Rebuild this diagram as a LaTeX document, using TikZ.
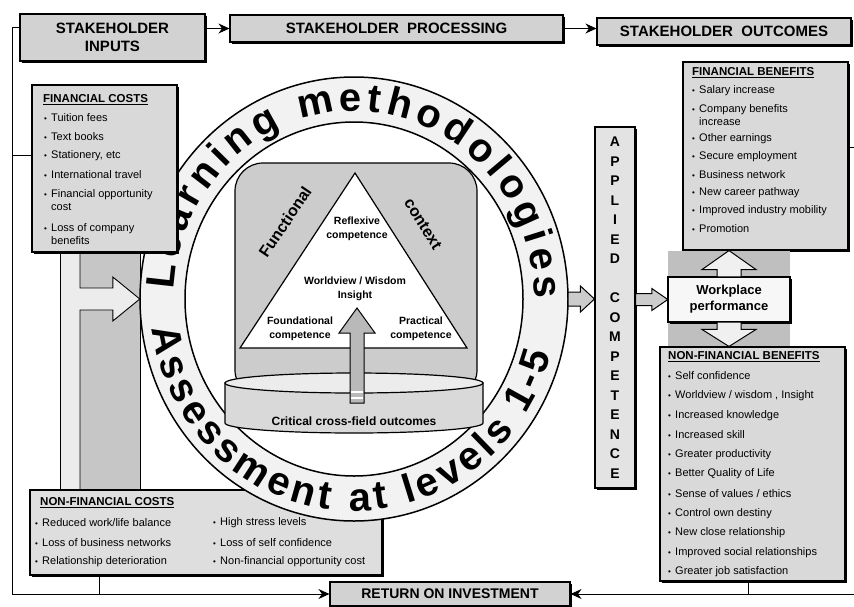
\documentclass[tikz,border=0pt]{standalone}
\usepackage{fontspec}
\setmainfont{Liberation Sans}
\usetikzlibrary{decorations.text,arrows.meta,calc,shapes.geometric,shadows}
\newcommand\fsz[2]{\fontsize{#1}{#2}\selectfont}
\newcommand\bi[1]{\makebox[7pt][l]{\fsz{8}{9}\textbullet}#1}
\newcommand\itm[4]{\node[item] (#1) at (#2,#3) {\bi{#4}};}
\newcommand\rarrow[6][]{\draw[barrow,#1] let \p1=(#2), \p2=(#3) in (\x1,\y2+#5pt) -- (\x2-#4pt,\y2+#5pt) -- (\x2-#4pt,\y2+#6pt) -- (\x2,\y2) -- (\x2-#4pt,\y2-#6pt) -- (\x2-#4pt,\y2-#5pt) -- (\x1,\y2-#5pt) -- cycle;}
\newcommand\uarrow[6][]{\draw[barrow,#1] let \p1=(#2), \p2=(#3) in (\x2+#5pt,\y1) -- (\x2+#5pt,\y2-#4pt) -- (\x2+#6pt,\y2-#4pt) -- (\x2,\y2) -- (\x2-#6pt,\y2-#4pt) -- (\x2-#5pt,\y2-#4pt) -- (\x2-#5pt,\y1) -- cycle;}
\newcommand\darrow[6][]{\draw[barrow,#1] let \p1=(#2), \p2=(#3) in (\x2+#5pt,\y1) -- (\x2+#5pt,\y2+#4pt) -- (\x2+#6pt,\y2+#4pt) -- (\x2,\y2) -- (\x2-#6pt,\y2+#4pt) -- (\x2-#5pt,\y2+#4pt) -- (\x2-#5pt,\y1) -- cycle;}
\begin{document}
\begin{tikzpicture}[x=1pt,y=-1pt,
  box/.style={draw, line width=1.1pt, fill=gray!30, inner sep=0pt,
    drop shadow={shadow xshift=1.6pt, shadow yshift=-1.6pt, opacity=1, fill=black}},
  topbox/.style={box, fill=gray!35, font=\fsz{15}{18}\bfseries, align=center},
  item/.style={anchor=west, inner sep=0pt, font=\fsz{11}{13}, align=left},
  hdr/.style={anchor=west, inner sep=0pt, font=\fsz{11.5}{13}\bfseries},
  small/.style={inner sep=0pt, font=\fsz{10.5}{13.5}\bfseries, align=center},
  conn/.style={line width=0.9pt},
  arr/.style={conn, -{Stealth[length=11pt,width=10pt]}},
  barrow/.style={draw, line width=1pt, fill=gray!45, line join=miter},
]
\useasboundingbox (0,0) rectangle (854,606);
\fill[white] (0,0) rectangle (854,606);
\path node[ellipse, minimum width=428pt, minimum height=444pt, inner sep=0pt] (ring) at (354,299) {};

% ---------- left panel with arrow ----------
\fill[gray!15] (60,95) rectangle (140,490);
\fill[gray!45] (80,95) rectangle (140,490);
\draw[conn] (60,95) -- (60,490);
\draw[conn] (140,95) -- (140,490);
\coordinate (pstart) at (80,303);
\fill[gray!15] let \p1=(pstart), \p2=(ring.west) in (\x1-1pt,\y2+11pt) -- (\x2-27pt,\y2+11pt) -- (\x2-27pt,\y2+22pt) -- (\x2,\y2) -- (\x2-27pt,\y2-22pt) -- (\x2-27pt,\y2-11pt) -- (\x1-1pt,\y2-11pt) -- cycle;
\draw[conn] let \p1=(pstart), \p2=(ring.west) in (80,95) -- (\x1,\y2+11pt) -- (\x2-27pt,\y2+11pt) -- (\x2-27pt,\y2+22pt) -- (\x2,\y2) -- (\x2-27pt,\y2-22pt) -- (\x2-27pt,\y2-11pt) -- (\x1,\y2-11pt) -- (80,490);

% ---------- non-financial costs ----------
\node[box, fill=gray!26, minimum width=352pt, minimum height=85pt] (nfc) at (206,532.5) {};
\node[hdr] (nfch) at (40,503) {\underline{NON-FINANCIAL COSTS}};
\itm{nc1}{35}{523}{Reduced work/life balance}
\itm{nc2}{35}{543}{Loss of business networks}
\itm{nc3}{35}{562}{Relationship deterioration}
\itm{nc4}{213}{523}{High stress levels}
\itm{nc5}{213}{543}{Loss of self confidence}
\itm{nc6}{213}{562}{Non-financial opportunity cost}

% ---------- ring ----------
\fill[gray!10, even odd rule] (ring.center) ellipse [x radius=214, y radius=222] (ring.center) ellipse [x radius=169, y radius=177];
\draw[line width=1.5pt] (ring.center) ellipse [x radius=214, y radius=222];
\draw[line width=1.5pt] (ring.center) ellipse [x radius=169, y radius=177];
\path[decorate, decoration={text along path, text align=fit to path, text={|\fsz{40}{40}\bfseries|Learning methodologies}}] (ring.center) ++(-177:180 and 188) arc[start angle=-177, end angle=0, x radius=180, y radius=188];
\path[decorate, decoration={text along path, text align=fit to path, text={|\fsz{40}{40}\bfseries|Assessment at levels 1-5}}] (ring.center) ++(172:204 and 212) arc[start angle=172, end angle=15, x radius=204, y radius=212];

% ---------- inner square, triangle ----------
\node[draw, line width=1.2pt, fill=gray!40, rounded corners=28pt, minimum width=242pt, minimum height=235pt, inner sep=0pt] (sq) at (356,280.5) {};
\coordinate (tA) at (355,173);
\coordinate (tB) at (240,348);
\coordinate (tC) at (467,348);
\draw[line width=1.2pt, fill=white] (tA) -- (tB) -- (tC) -- cycle;
\node[small] (refl) at (357,229) {Reflexive\\competence};
\node[small] (world) at (355,289) {Worldview / Wisdom\\Insight};
\node[small] (found) at (300,329) {Foundational\\competence};
\node[small] (pract) at (421,329) {Practical\\competence};
\node[inner sep=0pt, font=\fsz{16}{16}\bfseries, rotate=56] (func) at (285,222) {Functional};
\node[inner sep=0pt, font=\fsz{16}{16}\bfseries, rotate=-58] (ctx) at (423,224) {context};

% ---------- disc ----------
\coordinate (disc) at (354,383);
\draw[line width=1.2pt, fill=gray!30] ($(disc)+(-129,0)$) -- ++(0,40) arc[start angle=180, end angle=0, x radius=129, y radius=10] -- ++(0,-40) -- cycle;
\draw[line width=1.2pt, fill=gray!15] (disc) ellipse [x radius=129, y radius=10];
\node[inner sep=0pt, font=\fsz{12}{12}\bfseries] (crit) at (354,421) {Critical cross-field outcomes};
\coordinate (uaS) at (357,403);
\coordinate (uaT) at (357,308);
\uarrow[fill=gray!55]{uaS}{uaT}{25}{7}{18}
\draw[white, line width=1.5pt] (351,392) -- (363,392) (351,398) -- (363,398);

% ---------- financial costs ----------
\node[box, minimum width=145pt, minimum height=167pt] (fc) at (104.5,168.5) {};
\node[hdr] (fch) at (43,100) {\underline{FINANCIAL COSTS}};
\itm{fc1}{44}{118}{Tuition fees}
\itm{fc2}{44}{137}{Text books}
\itm{fc3}{44}{156}{Stationery, etc}
\itm{fc4}{44}{175}{International travel}
\itm{fc5}{44}{200}{Financial opportunity\\\hspace*{7pt}cost}
\itm{fc6}{44}{234}{Loss of company\\\hspace*{7pt}benefits}

% ---------- top row ----------
\node[topbox, minimum width=185pt, minimum height=47pt] (inp) at (112.5,37.5) {STAKEHOLDER\\INPUTS};
\node[topbox, minimum width=333pt, minimum height=27pt] (proc) at (396.5,28.5) {STAKEHOLDER\ \ PROCESSING};
\node[topbox, minimum width=254pt, minimum height=27pt] (outc) at (724,31.5) {STAKEHOLDER\ \ OUTCOMES};
\draw[arr] (proc.west -| inp.east) -- (proc.west);
\draw[arr] (proc.east) -- (proc.east -| outc.west);

% ---------- applied competence ----------
\node[box, fill=gray!22, minimum width=40pt, minimum height=361pt] (app) at (615,307.5) {};
\foreach \L [count=\i] in {A,P,P,L,I,E,D,{},C,O,M,P,E,T,E,N,C,E}
  {\node[inner sep=0pt, font=\fsz{14}{14}\bfseries] (ac\i) at (615,{142+(\i-1)*19.5}) {\L};}
\rarrow[fill=gray!40]{ring.east}{app.west |- ring.east}{14}{7}{13}

% ---------- outcomes side ----------
\node[box, minimum width=165pt, minimum height=188pt] (fb) at (765.5,156) {};
\node[box, minimum width=185pt, minimum height=234pt] (nfb) at (752.5,464) {};
\path node[minimum width=122pt, minimum height=45pt, inner sep=0pt] (wp) at (729,299.5) {};
\fill[gray!50] (wp.west |- fb.south) rectangle (wp.east |- nfb.north);
\node[box, fill=gray!6, font=\fsz{13}{16}\bfseries, align=center, minimum width=122pt, minimum height=45pt] (wpbox) at (wp) {Workplace\\performance};
\uarrow[fill=gray!12]{wp.north}{wp.north |- fb.south}{19}{12}{27}
\darrow[fill=gray!12]{wp.south}{wp.south |- nfb.north}{17}{12}{27}
\rarrow[fill=gray!40]{app.east |- wp.west}{wp.west}{16}{6}{11}

\node[hdr] (fbh) at (692,73) {\underline{FINANCIAL BENEFITS}};
\itm{fb1}{692}{91}{Salary increase}
\itm{fb2}{692}{115.5}{Company benefits\\\hspace*{7pt}increase}
\itm{fb3}{692}{139}{Other earnings}
\itm{fb4}{692}{157}{Secure employment}
\itm{fb5}{692}{175}{Business network}
\itm{fb6}{692}{193}{New career pathway}
\itm{fb7}{692}{211}{Improved industry mobility}
\itm{fb8}{692}{229}{Promotion}

\node[hdr] (nfbh) at (668,357) {\underline{NON-FINANCIAL BENEFITS}};
\itm{nb1}{668}{376}{Self confidence}
\itm{nb2}{668}{395.6}{Worldview / wisdom , Insight}
\itm{nb3}{668}{415.2}{Increased knowledge}
\itm{nb4}{668}{434.8}{Increased skill}
\itm{nb5}{668}{454.4}{Greater productivity}
\itm{nb6}{668}{474}{Better Quality of Life}
\itm{nb7}{668}{493.6}{Sense of values / ethics}
\itm{nb8}{668}{513.2}{Control own destiny}
\itm{nb9}{668}{532.8}{New close relationship}
\itm{nb10}{668}{552.4}{Improved social relationships}
\itm{nb11}{668}{572}{Greater job satisfaction}

% ---------- return on investment and feedback lines ----------
\node[topbox, font=\fsz{14}{16}\bfseries, minimum width=240pt, minimum height=24pt] (roi) at (450,594) {RETURN ON INVESTMENT};
\coordinate (ltop) at (12,27);
\coordinate (lmid) at (12,155);
\coordinate (lbot) at (12,594);
\coordinate (rbot) at (854,594);
\coordinate (rstub) at (854,147);
\coordinate (cb) at (99,594);
\coordinate (nb) at (748,594);
\draw[conn] (ltop -| inp.west) -- (ltop) -- (lbot);
\draw[conn] (lmid) -- (lmid -| fc.west);
\draw[arr] (lbot) -- (lbot -| roi.west);
\draw[arr] (rbot) -- (rbot -| roi.east);
\draw[conn] (cb |- nfc.south) -- (cb);
\draw[conn] (nb |- nfb.south) -- (nb);
\draw[conn] (rstub -| fb.east) -- (rstub);
\end{tikzpicture}
\end{document}
